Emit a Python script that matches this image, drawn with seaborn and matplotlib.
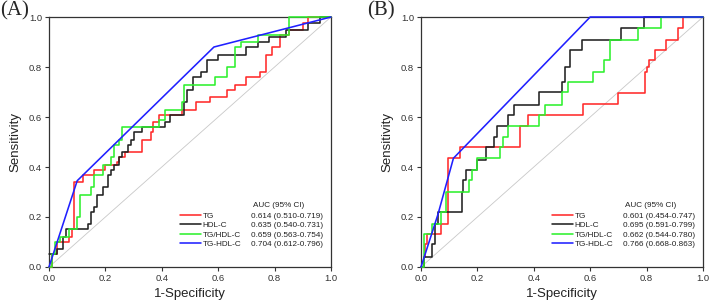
"""
ROC curves for TG, HDL-C, TG/HDL-C and TG-HDL-C, two cohorts
"""
import pandas as pd
import seaborn as sns
import matplotlib.pyplot as plt

names = ['TG', 'HDL-C', 'TG/HDL-C', 'TG-HDL-C']
colors = ['#ff2a2a', '#222222', '#2ef02e', '#2020ff']

# panel A, step curves: (1-specificity, sensitivity) after each jump
a_tg_x = [0, 0.01, 0.03, 0.07, 0.08, 0.09, 0.12, 0.16, 0.2, 0.24, 0.25, 0.27, 0.33, 0.36, 0.37, 0.39,
          0.47, 0.52, 0.57, 0.63, 0.66, 0.7, 0.75, 0.77, 0.79, 0.82, 0.85, 0.9, 0.92, 1.0]
a_tg_y = [0, 0.05, 0.1, 0.12, 0.15, 0.34, 0.37, 0.39, 0.41, 0.42, 0.44, 0.46, 0.51, 0.54, 0.58, 0.61,
          0.63, 0.66, 0.68, 0.71, 0.73, 0.76, 0.78, 0.85, 0.88, 0.93, 0.95, 0.975, 1.0, 1.0]
a_hdl_x = [0, 0.03, 0.05, 0.06, 0.14, 0.15, 0.16, 0.17, 0.19, 0.21, 0.22, 0.23, 0.25, 0.26, 0.28, 0.29,
           0.3, 0.33, 0.41, 0.43, 0.48, 0.49, 0.51, 0.54, 0.56, 0.6, 0.7, 0.74, 0.78, 0.84, 0.92, 0.96, 1.0]
a_hdl_y = [0.05, 0.07, 0.12, 0.15, 0.17, 0.22, 0.24, 0.29, 0.32, 0.37, 0.39, 0.41, 0.44, 0.46, 0.49, 0.51,
           0.54, 0.56, 0.58, 0.61, 0.66, 0.71, 0.76, 0.78, 0.83, 0.85, 0.88, 0.9, 0.92, 0.95, 0.975, 1.0, 1.0]
a_ratio_x = [0, 0.01, 0.02, 0.04, 0.07, 0.1, 0.11, 0.15, 0.16, 0.19, 0.22, 0.23, 0.25, 0.26, 0.39, 0.41,
             0.47, 0.48, 0.59, 0.63, 0.66, 0.68, 0.74, 0.85, 1.0]
a_ratio_y = [0, 0.05, 0.1, 0.12, 0.15, 0.2, 0.29, 0.32, 0.37, 0.41, 0.44, 0.49, 0.51, 0.56, 0.59, 0.63,
             0.66, 0.73, 0.76, 0.8, 0.88, 0.9, 0.93, 1.0, 1.0]
a_comb_x = [0, 0.1, 0.585, 1.0]
a_comb_y = [0, 0.345, 0.88, 1.0]

# panel B
b_tg_x = [0, 0.01, 0.015, 0.02, 0.07, 0.095, 0.14, 0.35, 0.38, 0.575, 0.7, 0.795, 0.8, 0.81, 0.83,
          0.87, 0.91, 0.93, 1.0]
b_tg_y = [0, 0.04, 0.09, 0.13, 0.17, 0.435, 0.48, 0.565, 0.61, 0.652, 0.696, 0.78, 0.8, 0.83, 0.87,
          0.91, 0.955, 1.0, 1.0]
b_hdl_x = [0, 0.01, 0.04, 0.05, 0.06, 0.145, 0.15, 0.16, 0.2, 0.23, 0.26, 0.27, 0.31, 0.33, 0.42,
           0.5, 0.51, 0.53, 0.57, 0.71, 0.79, 1.0]
b_hdl_y = [0, 0.04, 0.09, 0.17, 0.22, 0.3, 0.35, 0.39, 0.43, 0.48, 0.52, 0.565, 0.61, 0.65, 0.7,
           0.74, 0.8, 0.87, 0.91, 0.955, 1.0, 1.0]
b_ratio_x = [0, 0.01, 0.04, 0.07, 0.09, 0.17, 0.18, 0.2, 0.28, 0.29, 0.31, 0.42, 0.44, 0.5, 0.52,
             0.61, 0.65, 0.67, 0.77, 0.85, 1.0]
b_ratio_y = [0, 0.13, 0.17, 0.22, 0.3, 0.35, 0.39, 0.435, 0.48, 0.52, 0.565, 0.61, 0.65, 0.7, 0.74,
             0.78, 0.83, 0.91, 0.955, 1.0, 1.0]
b_comb_x = [0, 0.06, 0.115, 0.6, 1.0]
b_comb_y = [0, 0.21, 0.435, 1.0, 1.0]

auc_a = ['0.614 (0.510-0.719)', '0.635 (0.540-0.731)', '0.659 (0.563-0.754)', '0.704 (0.612-0.796)']
auc_b = ['0.601 (0.454-0.747)', '0.695 (0.591-0.799)', '0.662 (0.544-0.780)', '0.766 (0.668-0.863)']

ticks = [0.0, 0.2, 0.4, 0.6, 0.8, 1.0]
tick_labels = ['0.0', '0.2', '0.4', '0.6', '0.8', '1.0']

sns.set_style('white')
plt.rcParams['font.family'] = ['Liberation Sans', 'DejaVu Sans']


def draw_panel(ax, curves, aucs, fig):
    ax.plot([0, 1], [0, 1], color='#c8c8c8', lw=0.6, zorder=1)
    handles = []
    for i, (xs, ys) in enumerate(curves):
        df = pd.DataFrame({'x': xs, 'y': ys})
        # last curve is the combined model, drawn as a polyline
        style = 'default' if i == 3 else 'steps-post'
        sns.lineplot(data=df, x='x', y='y', ax=ax, color=colors[i], lw=1.15,
                     estimator=None, sort=False, drawstyle=style, zorder=3 + i, clip_on=False)
        handles.append(ax.lines[-1])
    ax.set_xlim(0, 1)
    ax.set_ylim(0, 1)
    ax.set_xticks(ticks)
    ax.set_xticklabels(tick_labels)
    ax.set_yticks(ticks)
    ax.set_yticklabels(tick_labels)
    ax.tick_params(direction='out', length=3, width=0.8, labelsize=6.8, colors='#333333',
                   left=True, bottom=True, pad=2)
    for sp in ax.spines.values():
        sp.set_color('#333333')
        sp.set_linewidth(0.9)
        sp.set_zorder(2)
    ax.set_xlabel('1-Specificity', fontsize=9.5, color='#222222', labelpad=4)
    ax.set_ylabel('Sensitivity', fontsize=9.5, color='#222222', labelpad=5)

    leg = ax.legend(handles, names, loc='lower left', bbox_to_anchor=(0.465, 0.075),
                    frameon=False, fontsize=5.9, handlelength=2.5, handletextpad=0.25,
                    labelspacing=0.22, borderpad=0, borderaxespad=0)
    for t in leg.get_texts():
        t.set_color('#222222')
    fig.canvas.draw()
    inv = ax.transAxes.inverted()
    ys = []
    for t, val in zip(leg.get_texts(), aucs):
        bb = t.get_window_extent()
        x0, y0 = inv.transform((bb.x0, (bb.y0 + bb.y1) / 2))
        ys.append(y0)
        ax.text(0.716, y0, val, transform=ax.transAxes, fontsize=5.9, va='center', ha='left',
                color='#222222')
    ax.text(0.723, ys[0] + (ys[0] - ys[1]) * 1.15, 'AUC (95% CI)', transform=ax.transAxes,
            fontsize=5.9, va='center', ha='left', color='#222222')
    return


def main():
    fig = plt.figure(figsize=(7.09, 3.07), dpi=100)
    ax_a = fig.add_axes([0.0691, 0.1303, 0.3977, 0.8143])
    ax_b = fig.add_axes([0.5938, 0.1303, 0.3977, 0.8143])

    curves_a = [(a_tg_x, a_tg_y), (a_hdl_x, a_hdl_y), (a_ratio_x, a_ratio_y), (a_comb_x, a_comb_y)]
    curves_b = [(b_tg_x, b_tg_y), (b_hdl_x, b_hdl_y), (b_ratio_x, b_ratio_y), (b_comb_x, b_comb_y)]
    draw_panel(ax_a, curves_a, auc_a, fig)
    draw_panel(ax_b, curves_b, auc_b, fig)

    fig.text(0.0, 0.995, '(A)', fontsize=15, family=['Liberation Serif'], va='top', ha='left')
    fig.text(0.518, 0.995, '(B)', fontsize=15, family=['Liberation Serif'], va='top', ha='left')

    fig.savefig('out.png', dpi=100)
    return


if __name__ == "__main__":
    main()
